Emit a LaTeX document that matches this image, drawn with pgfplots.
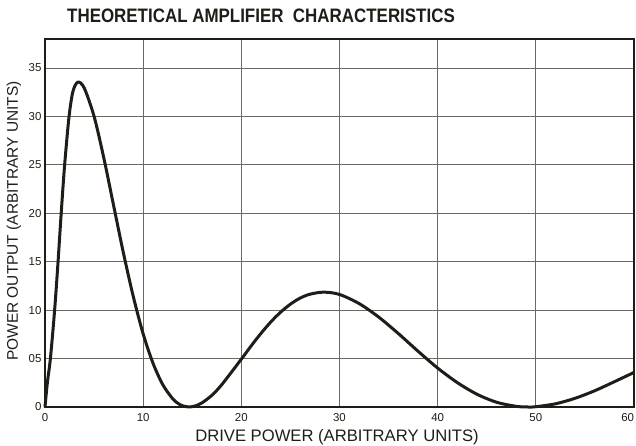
\documentclass[border=0pt]{standalone}
\usepackage{pgfplots}
\pgfplotsset{compat=1.18}
\usepackage{graphicx}
\usepackage{fontspec}
\setmainfont{Liberation Sans}
\definecolor{ink}{HTML}{1E1E18}
\definecolor{gridc}{HTML}{6A6A60}

\pgfplotstableread{
x y
0 0
0.25 2.6
0.55 5.0
0.98 10.0
1.33 15.0
1.65 20.0
2.0 25.0
2.45 30.0
2.85 32.6
3.35 33.55
4 32.93
5 30.01
6 25.67
7 20.75
8 15.85
9 11.38
10 7.55
11 4.53
12 2.30
13 0.86
13.5 0.41
14 0.13
14.7 0
15.5 0.17
16 0.43
17 1.21
18 2.30
20 4.94
21 6.31
22 7.60
23 8.78
24 9.79
25 10.62
26 11.25
27 11.65
28.4 11.86
30 11.62
32 10.68
34 9.28
36 7.58
38 5.76
40 4.02
42 2.52
44 1.32
46 0.49
48 0.07
49.2 0
50 0.03
52 0.33
54 0.90
56 1.68
58 2.61
60 3.57
}\curve

\begin{document}
\begin{tikzpicture}
\path[use as bounding box] (0bp,0bp) rectangle (636bp,446bp);
\begin{axis}[
  at={(45bp,39bp)}, anchor=south west,
  width=589bp, height=368bp, scale only axis,
  xmin=0, xmax=60, ymin=0, ymax=38,
  xtick={0,10,...,60}, ytick={0,5,...,35},
  xticklabels={0,10,20,30,40,50,\makebox[0pt][r]{60}},
  yticklabels={0,05,10,15,20,25,30,35},
  grid=major, major grid style={gridc, line width=1.1bp},
  axis line style={ink, line width=2bp},
  tick style={draw=none},
  ticklabel style={font=\fontsize{11.5}{11.5}\selectfont, text=ink},
  xticklabel style={yshift=-3bp},
  clip=false,
]
\addplot[ink, line width=3bp, line join=round, smooth, tension=0.5] table {\curve};
\end{axis}
\node[text=ink, font=\bfseries\fontsize{17}{17}\selectfont] at (261bp,430bp)
  {\scalebox{1}[1.15]{THEORETICAL AMPLIFIER\ \ CHARACTERISTICS}};
\node[text=ink, font=\fontsize{16.7}{16.7}\selectfont] at (337bp,9bp)
  {DRIVE POWER (ARBITRARY UNITS)};
\node[text=ink, font=\fontsize{15.5}{15.5}\selectfont, rotate=90] at (14bp,225bp)
  {POWER OUTPUT (ARBITRARY UNITS)};
\end{tikzpicture}
\end{document}
